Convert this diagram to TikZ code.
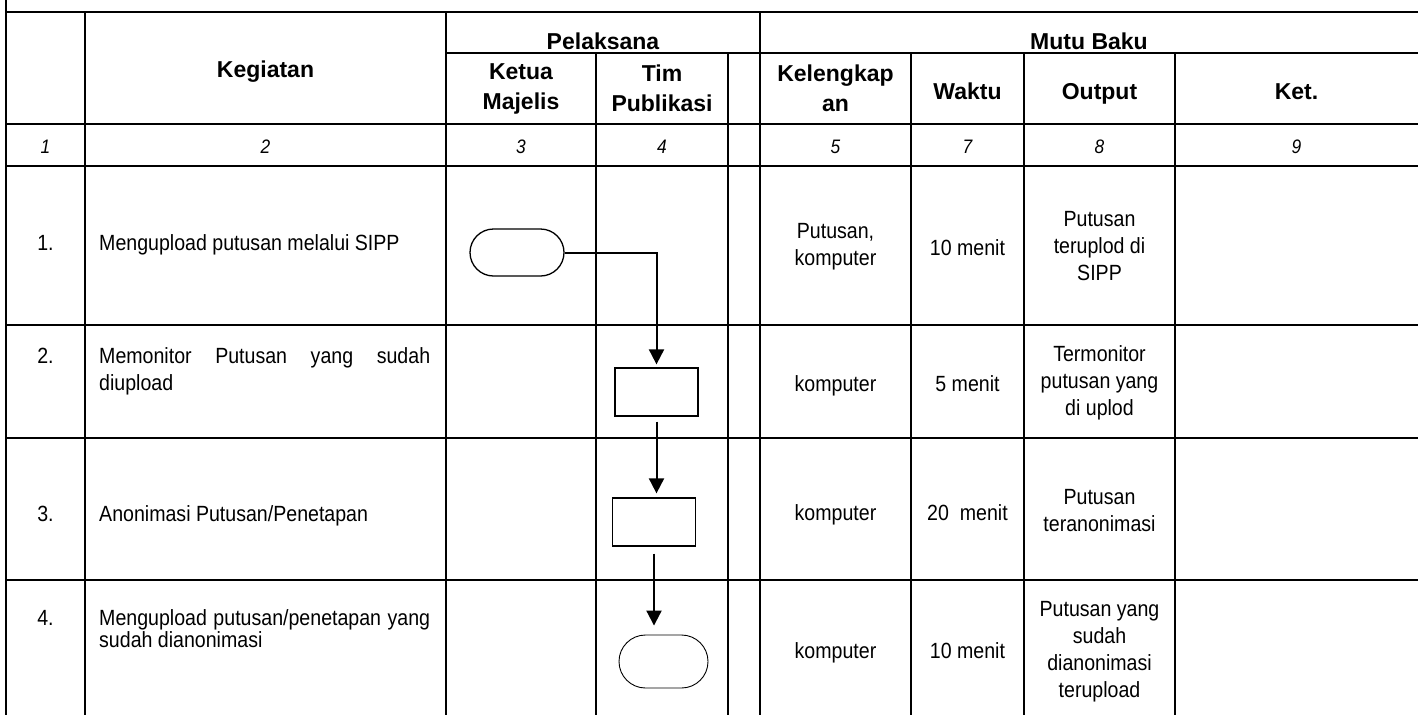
\documentclass[tikz,border=0pt]{standalone}
\usepackage{fontspec}
\setmainfont{Liberation Sans}
\newfontfamily\bodyfont[FakeStretch=0.89]{Liberation Sans}
\usetikzlibrary{arrows.meta,shapes.misc}
\hyphenpenalty=10000

\begin{document}
\begin{tikzpicture}[x=1pt,y=-1pt,
    grid/.style={line width=2.4pt},
    hd/.style={font=\fontsize{23}{30}\selectfont\bfseries,align=center,inner sep=0pt},
    txt/.style={font=\bodyfont\fontsize{22}{27}\selectfont,align=center,inner sep=0pt},
    num/.style={font=\bodyfont\fontsize{19.5}{23}\selectfont\itshape,inner sep=0pt},
    proc/.style={draw,line width=1.3pt,minimum width=83pt,minimum height=48pt,inner sep=0pt},
    term/.style={draw,rounded rectangle,line width=1.3pt,inner sep=0pt},
    flow/.style={-{Triangle[length=15pt,width=15pt]},line width=2pt}]

    \useasboundingbox (0,0) rectangle (1418,715);

    \draw[grid] (6,0) -- (6,715);
    \foreach \x in {85,446,760} \draw[grid] (\x,12) -- (\x,715);
    \foreach \x in {596,728,911,1024,1175} \draw[grid] (\x,53) -- (\x,715);
    \draw[grid] (6,12) -- (1418,12);
    \draw[grid] (446,53) -- (1418,53);
    \foreach \y in {124,166,325,438,580} \draw[grid] (6,\y) -- (1418,\y);

    \node[hd,anchor=base] (keg) at (265.5,77) {Kegiatan};
    \node[hd,anchor=base] (pel) at (603,49) {Pelaksana};
    \node[hd,anchor=base] (mutu) at (1089,49) {Mutu Baku};
    \node[hd] (ketua) at (521,88.5) {Ketua\\Majelis};
    \node[hd] (tim) at (662,88.5) {Tim\\Publikasi};
    \node[hd] (kel) at (835.5,88.5) {Kelengkap\\an};
    \node[hd,anchor=base] (waktu) at (967.5,99) {Waktu};
    \node[hd,anchor=base] (output) at (1099.5,99) {Output};
    \node[hd,anchor=base] (ket) at (1296.5,99) {Ket.};

    \foreach \x/\n in {45.5/1,265.5/2,521/3,662/4,835.5/5,967.5/7,1099.5/8,1296.5/9}
        \node[num,anchor=base] (n\n) at (\x,153) {\n};

    \node[txt,anchor=base] (no1) at (45.5,250) {1.};
    \node[txt,anchor=base west] (keg1) at (99,250) {Mengupload putusan melalui SIPP};
    \node[txt] (kel1) at (835.5,247) {Putusan,\\komputer};
    \node[txt,anchor=base] (w1) at (967.5,255) {10 menit};
    \node[txt] (out1) at (1099.5,246) {Putusan\\teruplod di\\SIPP};

    \node[txt,anchor=base] (no2) at (45.5,363) {2.};
    \node[txt,anchor=north west,text width=331pt,align=justify] (keg2) at (99,347)
        {Memonitor Putusan yang sudah \mbox{diupload}};
    \node[txt,anchor=base] (kel2) at (835.5,391) {komputer};
    \node[txt,anchor=base] (w2) at (967.5,391) {5 menit};
    \node[txt] (out2) at (1099.5,383) {Termonitor\\putusan yang\\di uplod};

    \node[txt,anchor=base] (no3) at (45.5,521) {3.};
    \node[txt,anchor=base west] (keg3) at (99,521) {Anonimasi Putusan/Penetapan};
    \node[txt,anchor=base] (kel3) at (835.5,520) {komputer};
    \node[txt,anchor=base] (w3) at (967.5,520) {20~~menit};
    \node[txt] (out3) at (1099.5,511) {Putusan\\teranonimasi};

    \node[txt,anchor=base] (no4) at (45.5,625) {4.};
    \node[txt,anchor=north west,text width=331pt,align=justify,
        font=\bodyfont\fontsize{22}{22.5}\selectfont] (keg4) at (99,609)
        {Mengupload putusan/penetapan yang sudah dianonimasi};
    \node[txt,anchor=base] (kel4) at (835.5,658) {komputer};
    \node[txt,anchor=base] (w4) at (967.5,658) {10 menit};
    \node[txt] (out4) at (1099.5,652) {Putusan yang\\sudah\\dianonimasi\\terupload};

    \node[term,minimum width=94pt,minimum height=47pt] (S1) at (517,252.5) {};
    \node[proc] (P2) at (656.5,392) {};
    \node[proc] (P3) at (654,522) {};
    \node[term,minimum width=89pt,minimum height=53pt,line width=0.9pt] (E4) at (663.5,661.5) {};

    \draw[flow,shorten >=3pt] (S1.east) -| (P2.north);
    \draw[flow,shorten <=5pt,shorten >=4pt] (P2.south) -- (P2.south |- P3.north);
    \draw[flow,shorten <=7pt,shorten >=9pt] (P3.south) -- (P3.south |- E4.north);
\end{tikzpicture}
\end{document}
